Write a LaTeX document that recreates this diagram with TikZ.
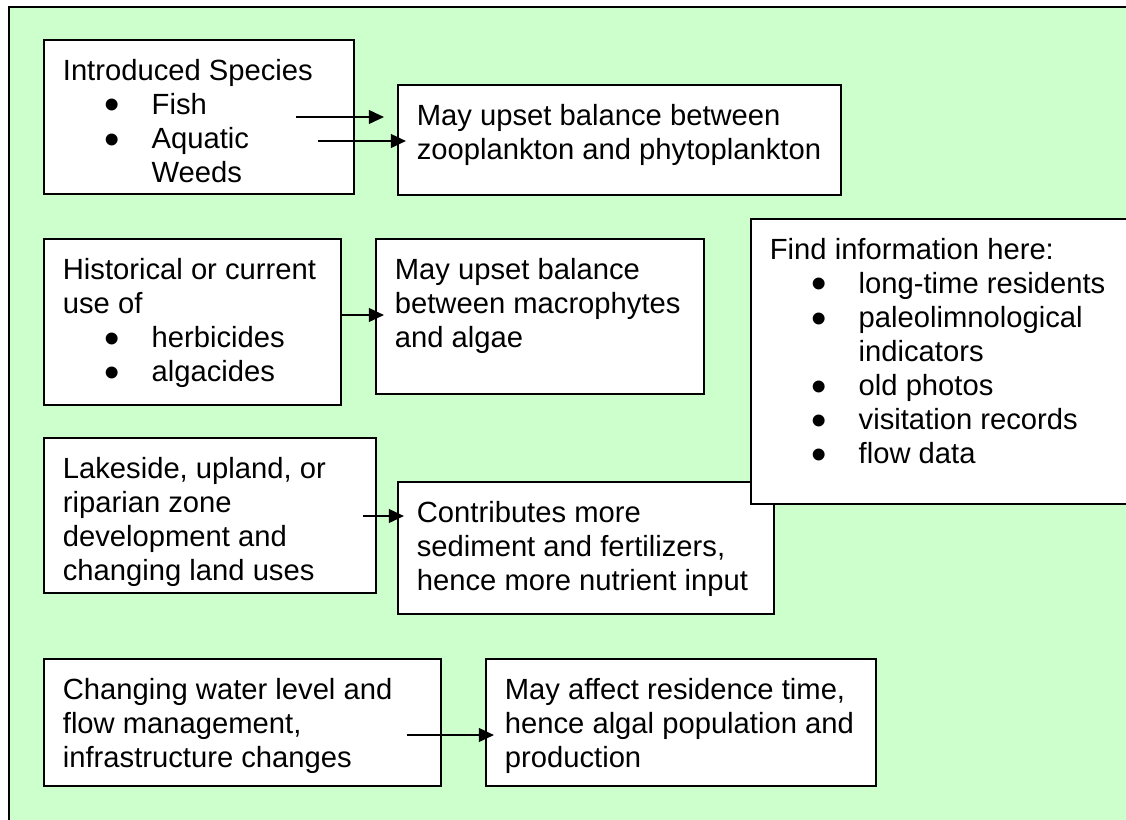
\documentclass[tikz,border=0pt]{standalone}
\usepackage{fontspec}
\setmainfont{Liberation Sans}
\usetikzlibrary{arrows.meta}

\definecolor{lakegreen}{HTML}{CCFFCC}
\newcommand{\itm}[1]{\makebox[36.5pt][l]{\hspace*{17.3pt}\smash{\fontsize{18}{14}\selectfont\raisebox{-2.2pt}{\textbullet}}}#1}
\newcommand{\cont}[1]{\hspace*{36.5pt}#1}
\newcommand{\boxtext}[3]{\parbox[c][#2][t]{#1}{\raggedright\leftskip=7.8pt\relax\vspace*{8pt}#3}}

\tikzset{
 txtbox/.style={draw,fill=white,line width=0.75pt,anchor=north west,inner sep=0pt},
 arr/.style={-{Triangle[length=6.2pt,width=5.6pt]},line width=0.8pt},
 every node/.style={font=\fontsize{12}{14}\selectfont}
}

\begin{document}
\begin{tikzpicture}[x=0.411pt,y=-0.411pt]
\clip (0,0) rectangle (1126,819);
\fill[lakegreen] (9,7) rectangle (1150,840);
\draw[line width=0.75pt] (9,840) -- (9,7) -- (1150,7);

% causes on the left, effects on the right
\node[txtbox] (intro) at (43,39) {\boxtext{127.4pt}{63.3pt}{Introduced Species\\
 \itm{Fish}\\ \itm{Aquatic}\\ \cont{Weeds}}};
\node[txtbox] (zoo) at (397,84) {\boxtext{182.1pt}{45.2pt}{May upset balance between\\
 zooplankton and phytoplankton}};

\node[txtbox] (hist) at (43,238) {\boxtext{122.1pt}{68.2pt}{Historical or current\\
 use of\\ \itm{herbicides}\\ \itm{algacides}}};
\node[txtbox] (macro) at (375,238) {\boxtext{135pt}{63.7pt}{May upset balance\\
 between macrophytes\\ and algae}};

\node[txtbox] (lake) at (43,437) {\boxtext{136.5pt}{63.7pt}{Lakeside, upland, or\\
 riparian zone\\ development and\\ changing land uses}};
\node[txtbox] (contrib) at (397,481) {\boxtext{154.5pt}{54.3pt}{Contributes more\\
 sediment and fertilizers,\\ hence more nutrient input}};

\node[txtbox] (find) at (750,218) {\boxtext{166pt}{117.1pt}{Find information here:\\
 \itm{long-time residents}\\ \itm{paleolimnological}\\ \cont{indicators}\\
 \itm{old photos}\\ \itm{visitation records}\\ \itm{flow data}}};

\node[txtbox] (water) at (43,658) {\boxtext{163.2pt}{52.2pt}{Changing water level and\\
 flow management,\\ infrastructure changes}};
\node[txtbox] (resid) at (485,658) {\boxtext{160.3pt}{52.2pt}{May affect residence time,\\
 hence algal population and\\ production}};

% arrows
\coordinate (fishA) at (296,117);
\coordinate (fishB) at (384,117);
\coordinate (weedA) at (318,141);
\coordinate (weedB) at (406,141);
\coordinate (histB) at (384,315);
\coordinate (lakeA) at (363,516);
\coordinate (lakeB) at (404,516);
\coordinate (waterA) at (407,735);
\coordinate (waterB) at (494,735);
\draw[arr] (fishA) -- (fishB);
\draw[arr] (weedA) -- (weedB);
\draw[arr] (hist.east |- histB) -- (histB);
\draw[arr] (lakeA) -- (lakeB);
\draw[arr] (waterA) -- (waterB);
\end{tikzpicture}
\end{document}
